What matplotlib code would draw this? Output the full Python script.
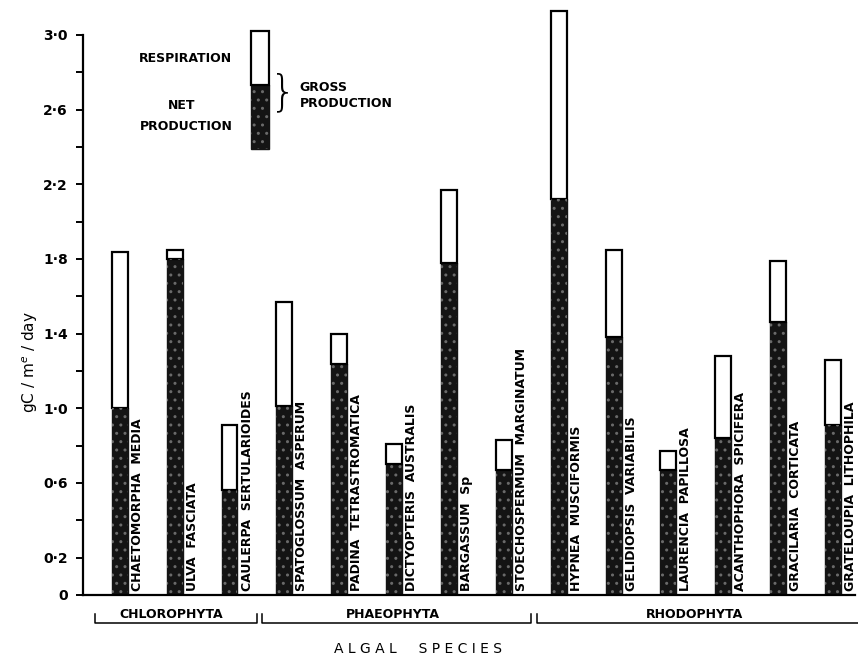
import matplotlib
matplotlib.use("Agg")
import matplotlib.pyplot as plt
import numpy as np

# ---- data ----
species = ["CHAETOMORPHA  MEDIA", "ULVA  FASCIATA", "CAULERPA  SERTULARIOIDES",
           "SPATOGLOSSUM  ASPERUM", "PADINA  TETRASTROMATICA", "DICTYOPTERIS  AUSTRALIS",
           "BARGASSUM  Sp", "STOECHOSPERMUM  MARGINATUM",
           "HYPNEA  MUSCIFORMIS", "GELIDIOPSIS  VARIABILIS", "LAURENCIA  PAPILLOSA",
           "ACANTHOPHORA  SPICIFERA", "GRACILARIA  CORTICATA", "GRATELOUPIA  LITHOPHILA"]
net_production = [1.00, 1.80, 0.56, 1.01, 1.24, 0.70, 1.78, 0.67,
                  2.12, 1.38, 0.67, 0.84, 1.46, 0.91]
gross_production = [1.84, 1.85, 0.91, 1.57, 1.40, 0.81, 2.17, 0.83,
                    3.13, 1.85, 0.77, 1.28, 1.79, 1.26]
groups = ["CHLOROPHYTA", "PHAEOPHYTA", "RHODOPHYTA"]
group_first = [0, 3, 8]
group_last = [2, 7, 13]
y_ticks = [0, 0.2, 0.4, 0.6, 0.8, 1.0, 1.2, 1.4, 1.6, 1.8, 2.0, 2.2, 2.4, 2.6, 2.8, 3.0]
y_tick_labels = ["0", "0·2", "", "0·6", "", "1·0", "", "1·4", "", "1·8", "",
                 "2·2", "", "2·6", "", "3·0"]
legend_base = 2.39
legend_net = 0.34
legend_resp = 0.29

respiration = [g - n for g, n in zip(gross_production, net_production)]

fig = plt.figure(figsize=(8.58, 6.6), dpi=100)
ax = fig.add_axes([0.0967, 0.0985, 0.8998, 0.8909])

x = np.arange(len(species))
bw = 0.29
dark = "#141414"
ax.bar(x, net_production, width=bw, color=dark, edgecolor=dark, linewidth=1.0, zorder=2)
ax.bar(x, net_production, width=bw, facecolor="none", edgecolor="#6a6a6a",
       hatch="..", linewidth=0, zorder=2.5)
ax.bar(x, respiration, width=bw, bottom=net_production, color="white",
       edgecolor="black", linewidth=1.6, zorder=2, clip_on=False)

for xi, name in zip(x, species):
    ax.text(xi + 0.32, 0.02, name, rotation=90, ha="center", va="bottom",
            fontsize=9, fontweight="bold", family="DejaVu Sans")

# legend bar
lx = 2.55
ax.bar([lx], [legend_net], width=0.33, bottom=[legend_base], color=dark,
       edgecolor=dark, linewidth=1.0, zorder=2)
ax.bar([lx], [legend_net], width=0.33, bottom=[legend_base], facecolor="none",
       edgecolor="#6a6a6a", hatch="..", linewidth=0, zorder=2.5)
ax.bar([lx], [legend_resp], width=0.33, bottom=[legend_base + legend_net],
       color="white", edgecolor="black", linewidth=1.6, zorder=2)
ax.text(2.04, 2.876, "RESPIRATION", ha="right", va="center", fontsize=9, fontweight="bold")
ax.text(1.12, 2.62, "NET", ha="center", va="center", fontsize=9, fontweight="bold")
ax.text(1.22, 2.51, "PRODUCTION", ha="center", va="center", fontsize=9, fontweight="bold")
ax.text(2.97, 2.69, "}", ha="center", va="center", fontsize=30, fontweight="light")
ax.text(3.28, 2.72, "GROSS", ha="left", va="center", fontsize=9, fontweight="bold")
ax.text(3.28, 2.635, "PRODUCTION", ha="left", va="center", fontsize=9, fontweight="bold")

ax.set_xlim(-0.67, 13.4)
ax.set_ylim(0, 3.15)
ax.set_yticks(y_ticks)
ax.set_yticklabels(y_tick_labels, fontsize=10, fontweight="bold")
ax.tick_params(axis="y", length=5, width=1.4, pad=6, direction="out")
ax.set_xticks([])
for s in ["top", "right"]:
    ax.spines[s].set_visible(False)
ax.spines["left"].set_linewidth(1.6)
ax.spines["bottom"].set_linewidth(1.6)
ax.spines["left"].set_bounds(0, 3.0)

# group brackets
tr = ax.get_xaxis_transform()
for name, f, l in zip(groups, group_first, group_last):
    x0 = f - 0.4 if f > 0 else f - 0.45
    x1 = l + 0.5
    ax.plot([x0, x0, x1, x1], [-0.032, -0.048, -0.048, -0.032], color="black",
            linewidth=1.1, transform=tr, clip_on=False)
    ax.text((x0 + x1) / 2 - 0.08, -0.034, name, transform=tr, ha="center", va="center",
            fontsize=9, fontweight="bold")

fig.text(0.487, 0.016, "A L G A L     S P E C I E S", ha="center", va="center", fontsize=10)
fig.text(0.035, 0.452, "gC / m$^{e}$ / day", rotation=90, ha="center", va="center", fontsize=11)

fig.savefig("out.png", dpi=100)
